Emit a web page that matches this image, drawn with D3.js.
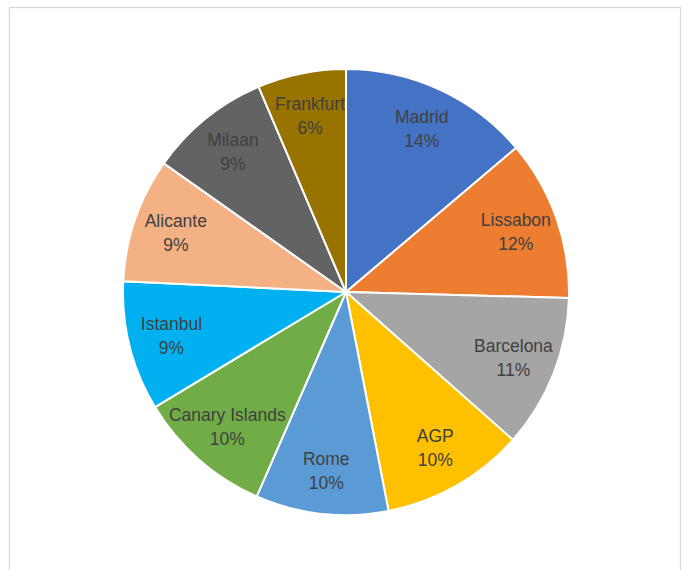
<!DOCTYPE html>
<html>
<head>
<meta charset="utf-8">
<script src="https://cdn.jsdelivr.net/npm/d3@7"></script>
<style>
  html, body { margin: 0; padding: 0; background: #fff; }
  svg { display: block; }
</style>
</head>
<body>
<svg id="chart" width="683" height="570"></svg>
<script>
// slice order, clockwise from 12 o'clock
const cities = ['Madrid', 'Lissabon', 'Barcelona', 'AGP', 'Rome', 'Canary Islands', 'Istanbul', 'Alicante', 'Milaan', 'Frankfurt']
const shares = [13.8, 11.6, 11.1, 10.4, 9.6, 9.8, 9.4, 9.0, 8.8, 6.4]
const colors = ['#4472c4', '#ed7d31', '#a5a5a5', '#ffc000', '#5b9bd5', '#70ad47', '#00b0f0', '#f4b183', '#636363', '#997300']

const width = 683
const height = 570
const cx = 346
const cy = 292
const radius = 223
const labelRadius = 180

const svg = d3.select('#chart')

// chart area frame (bottom edge runs past the window)
svg.append('rect')
  .attr('x', 9.5)
  .attr('y', 7.5)
  .attr('width', 671)
  .attr('height', height + 10)
  .attr('fill', '#fff')
  .attr('stroke', '#d9d9d9')
  .attr('stroke-width', 1.3)

const data = cities.map((name, i) => ({ name, value: shares[i] }))
const total = d3.sum(shares)

const color = d3.scaleOrdinal().domain(cities).range(colors)

const pie = d3.pie().value((d) => d.value).sort(null)
const arc = d3.arc().innerRadius(0).outerRadius(radius)
const labelArc = d3.arc().innerRadius(labelRadius).outerRadius(labelRadius)

const g = svg.append('g').attr('transform', `translate(${cx},${cy})`)
const arcs = pie(data)

g.selectAll('path')
  .data(arcs)
  .enter()
  .append('path')
  .attr('d', arc)
  .attr('fill', (d) => color(d.data.name))
  .attr('stroke', '#fff')
  .attr('stroke-width', 2)
  .attr('stroke-linejoin', 'round')

const labels = g.selectAll('text')
  .data(arcs)
  .enter()
  .append('text')
  .attr('transform', (d) => `translate(${labelArc.centroid(d)})`)
  .attr('text-anchor', 'middle')
  .attr('font-family', '"Liberation Sans", Arial, sans-serif')
  .attr('font-size', '17.5px')
  .attr('fill', '#404040')

labels.append('tspan')
  .attr('x', 0)
  .attr('y', -6)
  .text((d) => d.data.name)

labels.append('tspan')
  .attr('x', 0)
  .attr('y', 18)
  .text((d) => Math.round(d.data.value / total * 100) + '%')
</script>
</body>
</html>
